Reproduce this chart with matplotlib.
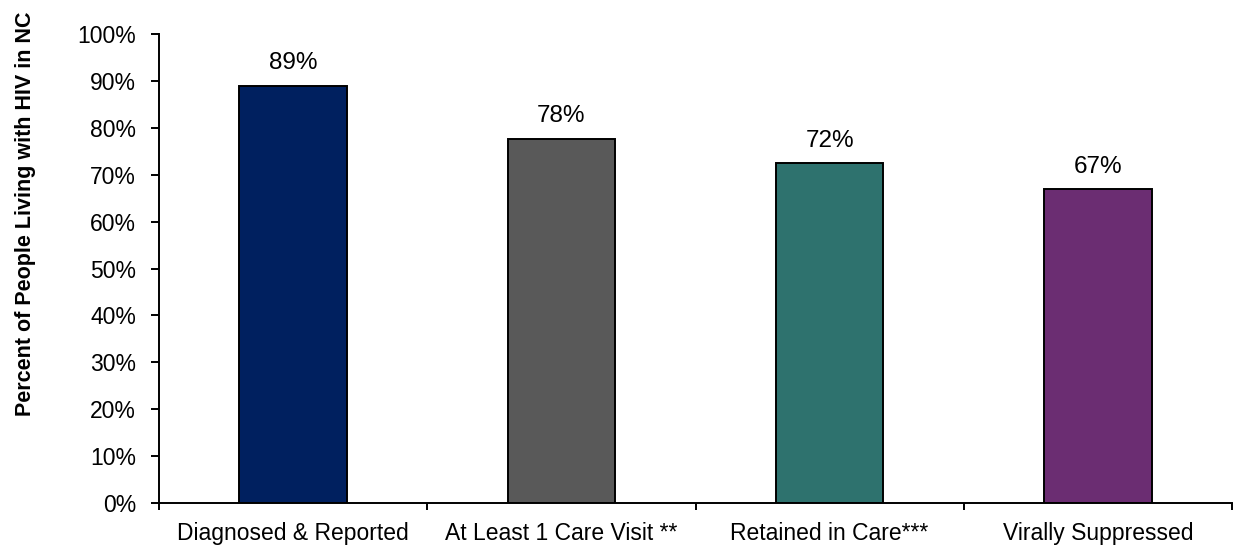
import matplotlib
matplotlib.use("Agg")
import matplotlib.pyplot as plt
from matplotlib.ticker import FixedLocator, PercentFormatter

plt.rcParams['font.family'] = ['Liberation Sans', 'DejaVu Sans']

categories = ["Diagnosed & Reported", "At Least 1 Care Visit **", "Retained in Care***", "Virally Suppressed"]
values = [88.9, 77.7, 72.4, 66.9]
labels = ["89%", "78%", "72%", "67%"]
colors = ["#00205F", "#595959", "#2E726E", "#6B2D72"]

fig = plt.figure(figsize=(12.33, 5.48), dpi=100)
ax = fig.add_axes([159/1233, 45/548, (1232-159)/1233, (503-34)/548])

x = list(range(len(categories)))
bars = ax.bar(x, values, width=0.40, color=colors, edgecolor="black", linewidth=1.4, zorder=2)

for xi, v, lab in zip(x, values, labels):
    ax.annotate(lab, (xi, v), xytext=(0, 12), textcoords="offset points",
                ha="center", va="baseline", fontsize=17.5, color="black")

ax.set_xlim(-0.5, len(categories) - 0.5)
ax.set_ylim(0, 100)
ax.set_yticks(range(0, 101, 10))
ax.yaxis.set_major_formatter(PercentFormatter(decimals=0))
ax.set_xticks(x)
ax.set_xticklabels(categories)
ax.xaxis.set_minor_locator(FixedLocator([i - 0.5 for i in range(len(categories) + 1)]))

ax.tick_params(axis="x", which="major", length=0, pad=14, labelsize=16.5)
ax.tick_params(axis="x", which="minor", length=5, width=1.4, direction="out")
ax.tick_params(axis="y", which="major", length=5.5, width=1.4, direction="out", pad=11, labelsize=16.5)

for s in ["top", "right"]:
    ax.spines[s].set_visible(False)
for s in ["left", "bottom"]:
    ax.spines[s].set_linewidth(1.4)

ax.set_ylabel("Percent of People Living with HIV in NC", fontsize=15.5, fontweight="bold", va="center")
ax.yaxis.set_label_coords((25.5 - 159) / 1073, (503 - 214) / 469)

fig.savefig("out.png", dpi=100)
